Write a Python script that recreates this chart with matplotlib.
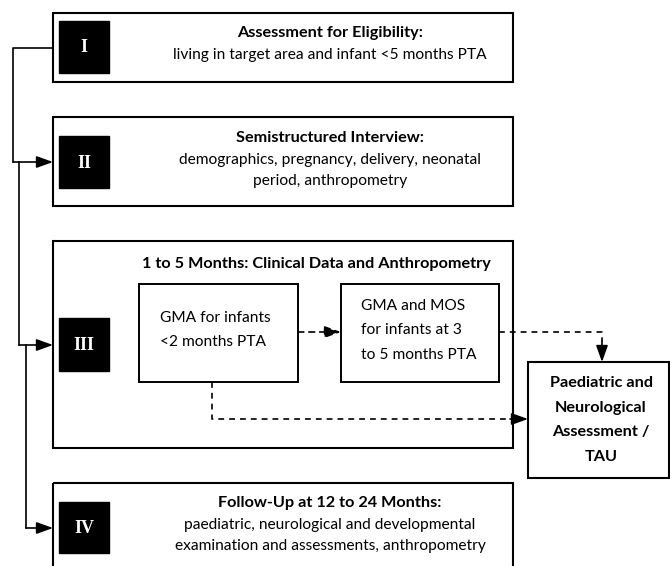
"""Study flow diagram: eligibility, interview, early assessment, follow-up."""

import matplotlib.pyplot as plt
from matplotlib.patches import FancyArrowPatch, Rectangle

# stage labels and texts
STAGE_NUMERALS = ["I", "II", "III", "IV"]
STAGE_TITLES = [
    "Assessment for Eligibility:",
    "Semistructured Interview:",
    "1 to 5 Months: Clinical Data and Anthropometry",
    "Follow-Up at 12 to 24 Months:",
]
STAGE_DETAILS = [
    ["living in target area and infant <5 months PTA"],
    ["demographics, pregnancy, delivery, neonatal", "period, anthropometry"],
    [],
    ["paediatric, neurological and developmental",
     "examination and assessments, anthropometry"],
]
GMA_EARLY = ["GMA for infants", "<2 months PTA"]
GMA_LATE = ["GMA and MOS", "for infants at 3", "to 5 months PTA"]
OUTCOME = ["Paediatric and", "Neurological", "Assessment /", "TAU"]

FONT = ["Lato", "DejaVu Sans"]
FS = 11.2
FS_BOLD = 11.7
W, H = 670, 566

fig = plt.figure(figsize=(W / 100, H / 100), dpi=100)
ax = fig.add_axes([0, 0, 1, 1])
ax.set_xlim(0, W)
ax.set_ylim(H, 0)
ax.axis("off")


def box(x0, y0, x1, y1, lw=1.5, **kw):
    ax.add_patch(Rectangle((x0, y0), x1 - x0, y1 - y0, fill=False,
                           edgecolor="black", linewidth=lw, **kw))


def arrow(p0, p1, dashed=False):
    ax.add_patch(FancyArrowPatch(p0, p1, arrowstyle="-|>,head_length=0.5,head_width=0.18",
                                 mutation_scale=20, color="black", linewidth=1.2,
                                 linestyle=(0, (3.5, 3)) if dashed else "-",
                                 shrinkA=0, shrinkB=0))


def lines(xs, ys, dashed=False):
    ax.plot(xs, ys, color="black", lw=1.2,
            linestyle=(0, (3.5, 3)) if dashed else "-")


# outer stage boxes (x from 53 to 513)
stage_y = [(13, 82), (117, 206), (241, 448), (483, 600)]
numeral_y = [(21, 73), (136, 188), (318, 371), (502, 553)]
for (y0, y1), (n0, n1), num in zip(stage_y, numeral_y, STAGE_NUMERALS):
    box(53, y0, 513, y1)
    ax.add_patch(Rectangle((59, n0), 50, n1 - n0, color="black"))
    ax.text(84, (n0 + n1) / 2 + 1, num, color="white", ha="center", va="center",
            fontsize=13, fontweight="bold", family="Liberation Serif")

# titles and detail lines
title_y = [33, 138, 264, 503]
for i, (title, details) in enumerate(zip(STAGE_TITLES, STAGE_DETAILS)):
    cx = 330 if i != 2 else 316
    ax.text(cx, title_y[i], title, ha="center", va="center", fontsize=FS_BOLD,
            fontweight="bold", family=FONT)
    for k, line in enumerate(details):
        ax.text(330, title_y[i] + 22 + 21 * k, line, ha="center", va="center",
                fontsize=FS, family=FONT)

# inner boxes in stage III
box(139, 284, 298, 382, lw=1.4)
for k, line in enumerate(GMA_EARLY):
    ax.text(160, 318 + 24 * k, line, ha="left", va="center", fontsize=FS, family=FONT)
box(341, 284, 499, 382, lw=1.4)
for k, line in enumerate(GMA_LATE):
    ax.text(361, 306 + 24.5 * k, line, ha="left", va="center", fontsize=FS, family=FONT)

# outcome box
box(528, 362, 669, 478)
for k, line in enumerate(OUTCOME):
    ax.text(601, 383 + 24.7 * k, line, ha="center", va="center", fontsize=FS_BOLD,
            fontweight="bold", family=FONT)

# solid connectors on the left
lines([53, 13, 13], [48, 48, 162])
arrow((13, 162), (53, 162))
lines([19, 19], [162, 345])
arrow((19, 345), (53, 345))
lines([26, 26], [345, 528])
arrow((26, 528), (53, 528))

# dashed connectors
arrow((298, 332), (341, 332), dashed=True)
lines([499, 602, 602], [332, 332, 342], dashed=True)
arrow((602, 342), (602, 362))
lines([212, 212, 510], [382, 419, 419], dashed=True)
arrow((510, 419), (528, 419))

fig.savefig("out.png", dpi=100)
